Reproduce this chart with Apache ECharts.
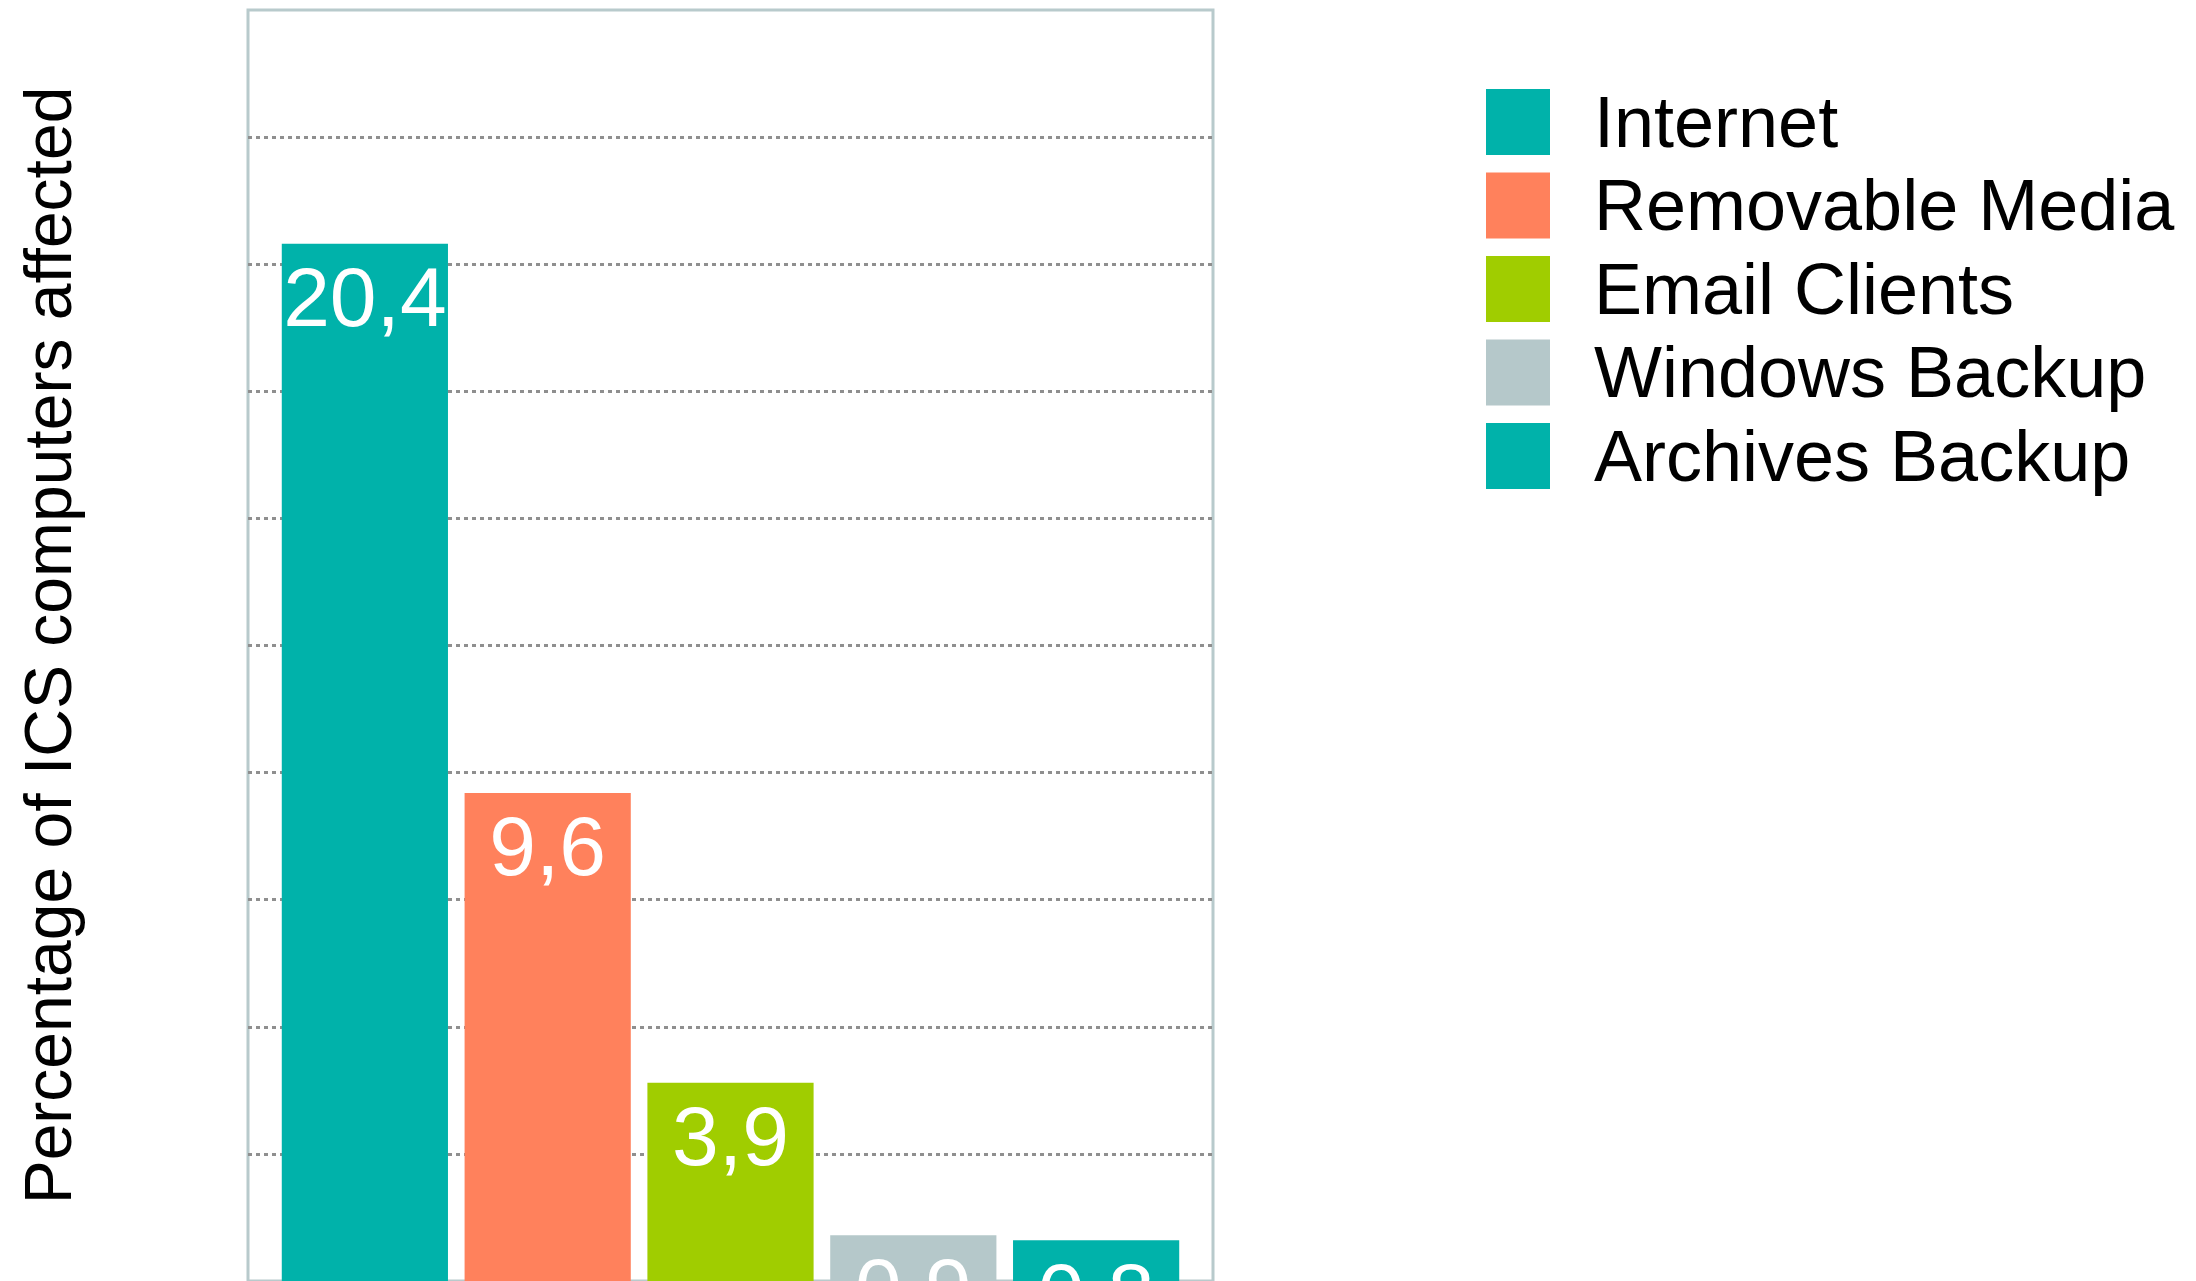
<!DOCTYPE html>
<html>
<head>
<meta charset="utf-8">
<script src="https://cdn.jsdelivr.net/npm/echarts@6/dist/echarts.min.js"></script>
<style>
  html, body { margin: 0; padding: 0; background: #fff; }
  #chart { width: 2196px; height: 1281px; }
</style>
</head>
<body>
<div id="chart"></div>
<script>
// data
const seriesNames = ['Internet', 'Removable Media', 'Email Clients', 'Windows Backup', 'Archives Backup']
const seriesValues = [20.4, 9.6, 3.9, 0.9, 0.8]
const seriesColors = ['#00b2aa', '#ff815c', '#a0cd00', '#b5c8ca', '#00b2aa']
const yTicks = [0, 2.5, 5, 7.5, 10, 12.5, 15, 17.5, 20, 22.5, 25]

const chart = echarts.init(document.getElementById('chart'))

const font = 'Liberation Sans, Arial, sans-serif'

const series = seriesNames.map((name, i) => ({
  name,
  type: 'bar',
  data: [seriesValues[i]],
  itemStyle: { color: seriesColors[i] },
  barGap: '10%',
  barCategoryGap: '7%',
  label: {
    show: true,
    position: 'insideTop',
    distance: 17,
    color: '#ffffff',
    fontSize: 84,
    fontFamily: font,
    formatter: (p) => String(p.value).replace('.', ',')
  }
}))

const option = {
  backgroundColor: '#ffffff',
  animation: false,
  grid: {
    left: 248,
    right: 983,
    top: 10,
    bottom: -5,
    show: true,
    borderColor: '#b8cacc',
    borderWidth: 3
  },
  legend: {
    orient: 'vertical',
    left: 1481,
    top: 84,
    itemWidth: 64,
    itemHeight: 66,
    itemGap: 9.5,
    icon: 'rect',
    formatter: '{t|{name}}',
    textStyle: {
      color: '#000000',
      fontSize: 72,
      fontFamily: font,
      padding: [0, 0, 0, 39],
      rich: {
        t: {
          color: '#000000',
          fontSize: 72,
          fontFamily: font,
          padding: [10, 0, 0, 0]
        }
      }
    },
    data: seriesNames
  },
  xAxis: {
    type: 'category',
    data: [''],
    axisLine: { show: false },
    axisTick: { show: false },
    axisLabel: { show: false }
  },
  yAxis: {
    type: 'value',
    min: yTicks[0],
    max: yTicks[yTicks.length - 1],
    interval: 2.5,
    name: 'Percentage of ICS computers affected',
    nameLocation: 'middle',
    nameGap: 162,
    nameTextStyle: {
      color: '#000000',
      fontSize: 66,
      fontFamily: font
    },
    axisLine: { show: false },
    axisTick: { show: false },
    axisLabel: { show: false },
    splitLine: {
      show: true,
      showMinLine: false,
      showMaxLine: false,
      lineStyle: { color: '#8f8f8f', width: 3, type: [4, 4] }
    }
  },
  series
}

chart.setOption(option)
</script>
</body>
</html>
